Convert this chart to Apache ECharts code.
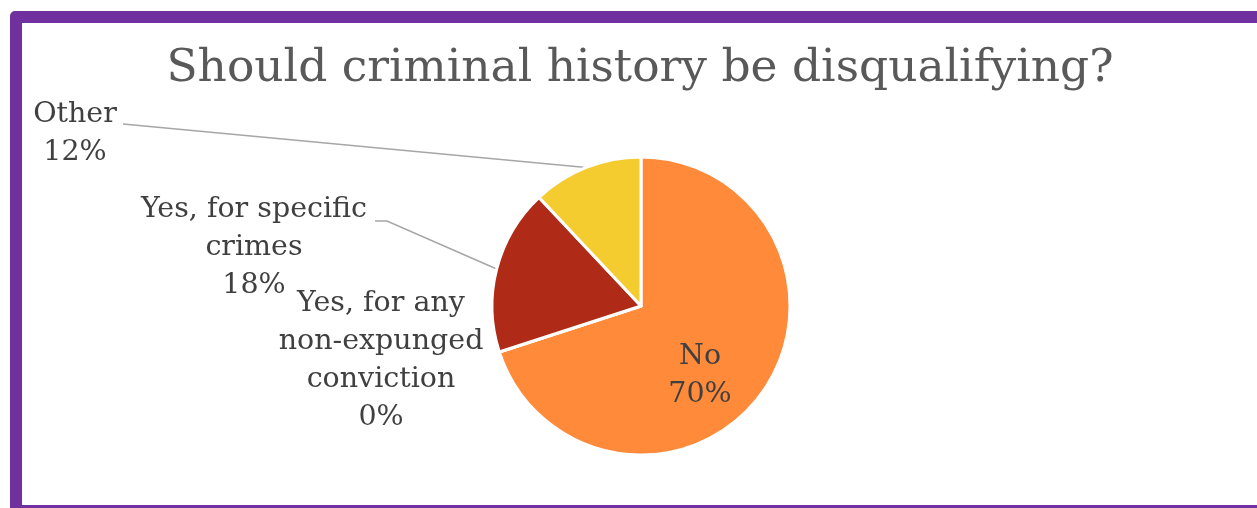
<!DOCTYPE html>
<html>
<head>
<meta charset="utf-8">
<script src="https://cdn.jsdelivr.net/npm/echarts@6/dist/echarts.min.js"></script>
<style>
  html, body { margin: 0; padding: 0; background: #ffffff; overflow: hidden; }
  #frame {
    position: absolute; left: 10px; top: 11px;
    width: 1300px; height: 482px;
    border: 12px solid #7030A0; border-radius: 5px;
    background: #ffffff;
  }
  #chart { position: absolute; left: 0; top: 0; width: 1257px; height: 508px; }
</style>
</head>
<body>
<div id="frame"></div>
<div id="chart"></div>
<script>
// Survey answers, in clockwise order from 12 o'clock
const categories = ['No', 'Yes, for any\nnon-expunged\nconviction', 'Yes, for specific\ncrimes', 'Other'];
const shares = [70, 0, 18, 12];
const sliceColors = ['#FF8A3A', '#7F7F7F', '#B02B17', '#F4CC30'];
const titleText = 'Should criminal history be disqualifying?';

// Pie geometry
const pieCenter = [641, 306];
const pieRadius = 149;

// Where each label block sits (center point), and the bend of its leader line
const labelSpots = [
  { x: 700, y: 376 },
  { x: 381, y: 361 },
  { x: 254, y: 248 },
  { x: 75, y: 134 }
];
const leaderEnds = [
  null,
  null,
  [[387, 221], [375, 221]],
  [[123, 124], [123, 124]]
];

const serif = '"DejaVu Serif", serif';
const chart = echarts.init(document.getElementById('chart'), null, { renderer: 'canvas' });

chart.setOption({
  backgroundColor: 'transparent',
  animation: false,
  graphic: [{
    type: 'text',
    x: 640,
    y: 69,
    style: {
      text: titleText,
      font: '45.5px ' + serif,
      fill: '#595959',
      align: 'center',
      verticalAlign: 'middle'
    }
  }],
  series: [{
    type: 'pie',
    center: pieCenter,
    radius: pieRadius,
    startAngle: 90,
    clockwise: true,
    avoidLabelOverlap: false,
    minShowLabelAngle: 0,
    itemStyle: { borderColor: '#ffffff', borderWidth: 3 },
    label: {
      show: true,
      position: 'outside',
      fontFamily: serif,
      fontSize: 28.5,
      lineHeight: 38,
      color: '#404040',
      align: 'center',
      formatter: p => p.name + '\n' + Math.round(p.percent) + '%'
    },
    labelLine: {
      show: true,
      length: 20,
      length2: 20,
      lineStyle: { color: '#A6A6A6', width: 1.5 }
    },
    emphasis: { disabled: true },
    labelLayout: function (params) {
      const i = params.dataIndex;
      const spot = labelSpots[i];
      const out = { x: spot.x, y: spot.y, align: 'center', verticalAlign: 'middle' };
      if (leaderEnds[i] && params.labelLinePoints) {
        const start = params.labelLinePoints[0];
        out.labelLinePoints = [start, leaderEnds[i][0], leaderEnds[i][1]];
      }
      return out;
    },
    data: categories.map((name, i) => ({
      name: name,
      value: shares[i],
      itemStyle: { color: sliceColors[i] },
      label: i === 0 ? { position: 'inside' } : {},
      labelLine: { show: !!leaderEnds[i] }
    }))
  }]
});
</script>
</body>
</html>
